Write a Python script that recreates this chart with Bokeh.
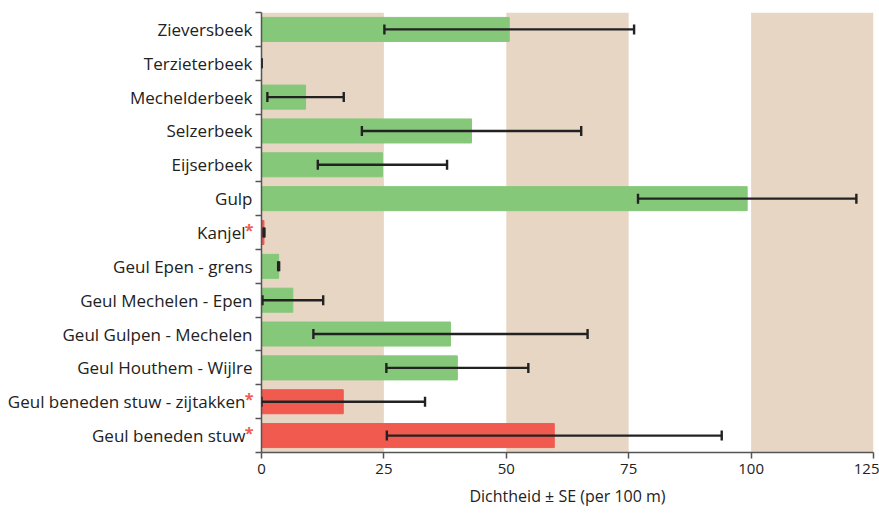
from bokeh.plotting import figure
from bokeh.layouts import row
from bokeh.models import (ColumnDataSource, Range1d, FixedTicker, BoxAnnotation,
                          Whisker, TeeHead)
from bokeh.core.properties import value
from bokeh.embed import file_html
from bokeh.resources import INLINE

categories = ["Zieversbeek", "Terzieterbeek", "Mechelderbeek", "Selzerbeek",
              "Eijserbeek", "Gulp", "Kanjel", "Geul Epen - grens",
              "Geul Mechelen - Epen", "Geul Gulpen - Mechelen",
              "Geul Houthem - Wijlre", "Geul beneden stuw - zijtakken",
              "Geul beneden stuw"]
density = [50.6, 0.0, 9.0, 42.9, 24.7, 99.2, 0.5, 3.5, 6.4, 38.6, 40.0, 16.7, 59.8]
se = [25.5, 0.0, 7.8, 22.4, 13.2, 22.3, 0.1, 0.1, 6.2, 28.0, 14.5, 16.7, 34.2]
starred = [False, False, False, False, False, False, True, False, False,
           False, False, True, True]
band_starts = [0, 50, 100]
band_width = 25
x_ticks = [0, 25, 50, 75, 100, 125]

GREEN = "#86C87A"
RED = "#F15A4F"
TAN = "#E8D6C4"
FONT = "Open Sans"
DARK = "#222222"
AXIS = "#555555"

n = len(categories)
ys = [n - i - 0.5 for i in range(n)]
src = ColumnDataSource(dict(
    y=ys,
    val=density,
    lower=[d - s for d, s in zip(density, se)],
    upper=[d + s for d, s in zip(density, se)],
    color=[RED if s else GREEN for s in starred],
))
yr = Range1d(0, n)

# ---- main plot ----
p = figure(frame_width=612, frame_height=440, output_backend="svg",
           toolbar_location=None, x_range=Range1d(0, 125), y_range=yr,
           min_border_left=6, min_border_right=6, min_border_top=12,
           min_border_bottom=56)
p.outline_line_color = None
p.xgrid.visible = False
p.ygrid.visible = False

for b in band_starts:
    p.add_layout(BoxAnnotation(left=b, right=b + band_width, fill_color=TAN,
                               fill_alpha=1.0, line_color=None, level="underlay"))

p.hbar(y="y", left=0, right="val", height=0.71, color="color", source=src)

p.add_layout(Whisker(source=src, base="y", lower="lower", upper="upper",
                     dimension="width", line_color=DARK, line_width=2.4,
                     level="overlay",
                     lower_head=TeeHead(size=10, line_color=DARK, line_width=2.4),
                     upper_head=TeeHead(size=10, line_color=DARK, line_width=2.4)))

# y axis: only the axis line and ticks at the category boundaries
p.yaxis.ticker = FixedTicker(ticks=[], minor_ticks=list(range(n + 1)))
p.yaxis.major_label_text_font_size = "0px"
p.yaxis.major_label_standoff = 0
p.yaxis.major_tick_out = 0
p.yaxis.major_tick_in = 0
p.yaxis.minor_tick_out = 6
p.yaxis.minor_tick_in = 0
p.yaxis.minor_tick_line_color = AXIS
p.yaxis.minor_tick_line_width = 1.5
p.yaxis.axis_line_color = AXIS
p.yaxis.axis_line_width = 1.5

# x axis
p.xaxis.ticker = FixedTicker(ticks=x_ticks, minor_ticks=[])
p.xaxis.major_tick_out = 6
p.xaxis.major_tick_in = 0
p.xaxis.major_tick_line_color = AXIS
p.xaxis.major_tick_line_width = 1.5
p.xaxis.axis_line_color = AXIS
p.xaxis.axis_line_width = 1.5
p.xaxis.major_label_standoff = 5
p.xaxis.major_label_text_font = FONT
p.xaxis.major_label_text_font_size = "15px"
p.xaxis.major_label_text_color = DARK
p.xaxis.axis_label = "Dichtheid \u00b1 SE (per 100 m)"
p.xaxis.axis_label_text_font = FONT
p.xaxis.axis_label_text_font_size = "16px"
p.xaxis.axis_label_text_font_style = "normal"
p.xaxis.axis_label_text_color = DARK
p.xaxis.axis_label_standoff = 8

# ---- category labels panel ----
lab = figure(frame_width=255, frame_height=440, output_backend="svg",
             toolbar_location=None, x_range=Range1d(0, 1), y_range=yr,
             x_axis_location=None, y_axis_location=None,
             min_border_left=0, min_border_right=0, min_border_top=12,
             min_border_bottom=56)
lab.outline_line_color = None
lab.xgrid.visible = False
lab.ygrid.visible = False

plain = ColumnDataSource(dict(
    x=[1 for s in starred if not s],
    y=[y for y, s in zip(ys, starred) if not s],
    t=[c for c, s in zip(categories, starred) if not s]))
flagged = ColumnDataSource(dict(
    x=[1 for s in starred if s],
    y=[y for y, s in zip(ys, starred) if s],
    t=[c for c, s in zip(categories, starred) if s],
    star=["*" for s in starred if s]))

lab.text(x="x", y="y", text="t", source=plain, x_offset=-3,
         text_align="right", text_baseline="middle", text_color=DARK,
         text_font=value(FONT), text_font_size="17px")
lab.text(x="x", y="y", text="t", source=flagged, x_offset=-10,
         text_align="right", text_baseline="middle", text_color=DARK,
         text_font=value(FONT), text_font_size="17px")
lab.text(x="x", y="y", text="star", source=flagged, x_offset=-2, y_offset=-3,
         text_align="right", text_baseline="middle", text_color=RED,
         text_font=value(FONT), text_font_size="16px", text_font_style="bold")

layout = row(lab, p, spacing=0)
open("out.html", "w").write(file_html(layout, INLINE))
